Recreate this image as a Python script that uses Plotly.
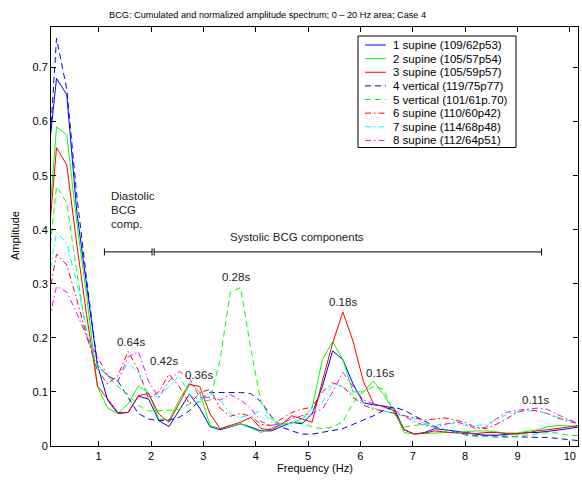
import plotly.graph_objects as go

# ---------------- data ----------------
freq_hz = [0.0, 0.195, 0.391, 0.586, 0.781, 0.977, 1.172, 1.367, 1.563, 1.758,
           1.953, 2.148, 2.344, 2.539, 2.734, 2.93, 3.125, 3.32, 3.516, 3.711,
           3.906, 4.102, 4.297, 4.492, 4.688, 4.883, 5.078, 5.273, 5.469, 5.664,
           5.859, 6.055, 6.25, 6.445, 6.641, 6.836, 7.031, 7.227, 7.422, 7.617,
           7.813, 8.008, 8.203, 8.398, 8.594, 8.789, 8.984, 9.18, 9.375, 9.57,
           9.766, 9.961, 10.156]

s1_supine = [0.50, 0.68, 0.65, 0.43, 0.29, 0.15, 0.085, 0.06, 0.062, 0.092,
             0.087, 0.047, 0.036, 0.065, 0.096, 0.07, 0.036, 0.030, 0.035, 0.041,
             0.035, 0.028, 0.028, 0.036, 0.044, 0.041, 0.06, 0.11, 0.176, 0.16,
             0.115, 0.08, 0.076, 0.074, 0.07, 0.03, 0.022, 0.025, 0.032, 0.03,
             0.028, 0.025, 0.022, 0.02, 0.02, 0.021, 0.023, 0.025, 0.025, 0.027,
             0.029, 0.032, 0.035]
s2_supine = [0.35, 0.59, 0.576, 0.41, 0.27, 0.11, 0.07, 0.06, 0.078, 0.111,
             0.099, 0.05, 0.048, 0.085, 0.117, 0.10, 0.038, 0.032, 0.036, 0.041,
             0.033, 0.025, 0.033, 0.041, 0.042, 0.05, 0.07, 0.16, 0.193, 0.16,
             0.10, 0.10, 0.12, 0.095, 0.065, 0.025, 0.022, 0.023, 0.025, 0.025,
             0.025, 0.027, 0.028, 0.028, 0.026, 0.024, 0.024, 0.027, 0.03, 0.035,
             0.038, 0.037, 0.036]
s3_supine = [0.33, 0.552, 0.52, 0.37, 0.235, 0.111, 0.087, 0.062, 0.062, 0.093,
             0.097, 0.059, 0.044, 0.08, 0.114, 0.11, 0.06, 0.032, 0.038, 0.044,
             0.053, 0.032, 0.03, 0.04, 0.056, 0.05, 0.044, 0.12, 0.19, 0.248,
             0.194, 0.12, 0.078, 0.073, 0.065, 0.03, 0.022, 0.024, 0.028, 0.026,
             0.024, 0.024, 0.023, 0.025, 0.025, 0.023, 0.022, 0.024, 0.028, 0.03,
             0.032, 0.035, 0.038]
s4_vertical = [0.45, 0.754, 0.66, 0.46, 0.30, 0.15, 0.13, 0.12, 0.09, 0.06,
               0.05, 0.047, 0.048, 0.053, 0.065, 0.085, 0.099, 0.099, 0.099, 0.099,
               0.097, 0.082, 0.055, 0.035, 0.028, 0.022, 0.022, 0.025, 0.028, 0.032,
               0.04, 0.048, 0.056, 0.066, 0.072, 0.066, 0.056, 0.045, 0.036, 0.03,
               0.025, 0.022, 0.019, 0.019, 0.019, 0.018, 0.017, 0.016, 0.016, 0.016,
               0.014, 0.012, 0.01]
s5_vertical = [0.30, 0.48, 0.45, 0.32, 0.20, 0.15, 0.13, 0.11, 0.095, 0.075,
               0.065, 0.065, 0.066, 0.068, 0.078, 0.082, 0.085, 0.16, 0.285, 0.293,
               0.18, 0.08, 0.05, 0.04, 0.042, 0.044, 0.035, 0.032, 0.035, 0.045,
               0.08, 0.1, 0.11, 0.105, 0.06, 0.035, 0.038, 0.04, 0.035, 0.03,
               0.025, 0.02, 0.018, 0.018, 0.016, 0.016, 0.018, 0.02, 0.022, 0.025,
               0.024, 0.02, 0.019]
s6_supine = [0.25, 0.355, 0.335, 0.27, 0.20, 0.14, 0.115, 0.13, 0.175, 0.14,
             0.088, 0.1, 0.133, 0.11, 0.078, 0.098, 0.105, 0.07, 0.055, 0.06,
             0.055, 0.04, 0.038, 0.05, 0.062, 0.068, 0.072, 0.1, 0.117, 0.11,
             0.09, 0.076, 0.068, 0.065, 0.06, 0.056, 0.052, 0.048, 0.05, 0.052,
             0.048, 0.043, 0.035, 0.032, 0.04, 0.05, 0.062, 0.067, 0.065, 0.06,
             0.052, 0.046, 0.042]
s7_supine = [0.28, 0.395, 0.375, 0.30, 0.21, 0.145, 0.13, 0.12, 0.155, 0.135,
             0.095, 0.09, 0.11, 0.13, 0.095, 0.085, 0.1, 0.085, 0.06, 0.053,
             0.058, 0.065, 0.045, 0.038, 0.042, 0.05, 0.063, 0.08, 0.115, 0.11,
             0.095, 0.08, 0.07, 0.065, 0.06, 0.056, 0.05, 0.042, 0.038, 0.042,
             0.041, 0.038, 0.038, 0.04, 0.048, 0.058, 0.063, 0.065, 0.064, 0.06,
             0.053, 0.048, 0.04]
s8_supine = [0.21, 0.295, 0.285, 0.245, 0.2, 0.165, 0.13, 0.12, 0.165, 0.175,
             0.12, 0.09, 0.12, 0.138, 0.125, 0.09, 0.09, 0.085, 0.095, 0.085,
             0.07, 0.045, 0.038, 0.042, 0.05, 0.056, 0.06, 0.068, 0.1, 0.136,
             0.11, 0.085, 0.078, 0.072, 0.066, 0.055, 0.045, 0.038, 0.035, 0.04,
             0.045, 0.04, 0.032, 0.035, 0.05, 0.062, 0.066, 0.068, 0.07, 0.068,
             0.058, 0.05, 0.042]

series_labels = ["1 supine (109/62p53)", "2 supine (105/57p54)", "3 supine (105/59p57)",
                 "4 vertical (119/75p77)", "5 vertical (101/61p.70)", "6 supine (110/60p42)",
                 "7 supine (114/68p48)", "8 supine (112/64p51)"]
series_values = [s1_supine, s2_supine, s3_supine, s4_vertical, s5_vertical,
                 s6_supine, s7_supine, s8_supine]

peak_labels = ["0.64s", "0.42s", "0.36s", "0.28s", "0.18s", "0.16s", "0.11s"]
peak_label_x = [1.61, 2.24, 2.91, 3.625, 5.67, 6.37, 9.36]
peak_label_y = [0.193, 0.158, 0.131, 0.312, 0.266, 0.135, 0.085]

x_ticks = [1, 2, 3, 4, 5, 6, 7, 8, 9, 10]
y_ticks = [0, 0.1, 0.2, 0.3, 0.4, 0.5, 0.6, 0.7]
y_ticktext = ["0", "0.1", "0.2", "0.3", "0.4", "0.5", "0.6", "0.7"]

# ---------------- styles ----------------
colors = ["#0000ff", "#00ff00", "#ff0000", "#0000ff", "#00ff00", "#ff0000", "#00ffff", "#ff00ff"]
DASH = "6px,4px"
DASHDOT = "6px,3px,1.5px,3px"
dashes = ["solid", "solid", "solid", DASH, DASH, DASHDOT, DASHDOT, DASHDOT]

FONT = "Liberation Sans, Arial, Helvetica, sans-serif"
W, H = 582, 480
L, R, T, B = 51, 4, 27, 34
PW, PH = W - L - R, H - T - B


def px_x(px):
    return (px - L) / PW


def px_y(py):
    return 1 - (py - T) / PH


fig = go.Figure()
for vals, col, dsh, lab in zip(series_values, colors, dashes, series_labels):
    fig.add_trace(go.Scatter(x=freq_hz, y=vals, mode="lines", name=lab,
                             line=dict(color=col, width=1, dash=dsh),
                             showlegend=False))

annotations = []
shapes = []

# peak labels
for t, xx, yy in zip(peak_labels, peak_label_x, peak_label_y):
    annotations.append(dict(x=xx, y=yy, xref="x", yref="y", text=t, showarrow=False,
                            xanchor="center", yanchor="middle",
                            font=dict(family=FONT, size=11.5, color="#222")))

# diastolic / systolic text
for i, t in enumerate(["Diastolic", "BCG", "comp."]):
    annotations.append(dict(x=1.19, y=0.462 - i * 0.0255, xref="x", yref="y", text=t,
                            showarrow=False, xanchor="left", yanchor="middle",
                            font=dict(family=FONT, size=11.5, color="#222")))
annotations.append(dict(x=4.79, y=0.387, xref="x", yref="y", text="Systolic BCG components",
                        showarrow=False, xanchor="center", yanchor="middle",
                        font=dict(family=FONT, size=11.5, color="#222")))

# brackets
BY = 0.359
TK = 0.0065
for x0, x1 in [(1.11, 2.02), (2.06, 9.46)]:
    shapes.append(dict(type="line", xref="x", yref="y", x0=x0, x1=x1, y0=BY, y1=BY,
                       line=dict(color="black", width=1)))
    for xe in (x0, x1):
        shapes.append(dict(type="line", xref="x", yref="y", x0=xe, x1=xe, y0=BY - TK, y1=BY + TK,
                           line=dict(color="black", width=1)))

# custom legend
LX0, LX1, LY0, LY1 = 358, 516, 36, 147.5
shapes.append(dict(type="rect", xref="paper", yref="paper",
                   x0=px_x(LX0), x1=px_x(LX1), y0=px_y(LY1), y1=px_y(LY0),
                   line=dict(color="black", width=1), fillcolor="white", layer="above"))
for i, (lab, col, dsh) in enumerate(zip(series_labels, colors, dashes)):
    yc = 45 + i * 13.63
    shapes.append(dict(type="line", xref="paper", yref="paper",
                       x0=px_x(365), x1=px_x(386), y0=px_y(yc), y1=px_y(yc),
                       line=dict(color=col, width=1, dash=dsh), layer="above"))
    annotations.append(dict(x=px_x(391), y=px_y(yc), xref="paper", yref="paper", text=lab,
                            showarrow=False, xanchor="left", yanchor="middle",
                            font=dict(family=FONT, size=11.5, color="black")))

# title and axis labels
annotations.append(dict(x=px_x(267.5), y=px_y(15), xref="paper", yref="paper",
                        text="BCG: Cumulated and normalized amplitude spectrum; 0 \u2013 20 Hz area; Case 4",
                        showarrow=False, xanchor="center", yanchor="middle",
                        font=dict(family=FONT, size=9.2, color="black")))
annotations.append(dict(x=0.5, y=px_y(468), xref="paper", yref="paper", text="Frequency (Hz)",
                        showarrow=False, xanchor="center", yanchor="middle",
                        font=dict(family=FONT, size=11, color="black")))
annotations.append(dict(x=px_x(15), y=px_y(236), xref="paper", yref="paper", text="Amplitude",
                        showarrow=False, xanchor="center", yanchor="middle", textangle=-90,
                        font=dict(family=FONT, size=11, color="black")))

fig.update_layout(
    width=W, height=H,
    margin=dict(l=L, r=R, t=T, b=B, pad=0),
    paper_bgcolor="white", plot_bgcolor="white",
    annotations=annotations, shapes=shapes,
    showlegend=False,
    xaxis=dict(range=[0.09, 10.156], tickvals=x_ticks, ticks="inside", ticklen=5,
               tickcolor="black", mirror="ticks", showline=True, linecolor="black",
               linewidth=1, showgrid=False, zeroline=False,
               tickfont=dict(family=FONT, size=11, color="black")),
    yaxis=dict(range=[0, 0.775], tickvals=y_ticks, ticktext=y_ticktext, ticks="inside",
               ticklen=5, tickcolor="black", mirror="ticks", showline=True,
               linecolor="black", linewidth=1, showgrid=False, zeroline=False,
               tickfont=dict(family=FONT, size=11, color="black")),
)

fig.write_html("out.html")
